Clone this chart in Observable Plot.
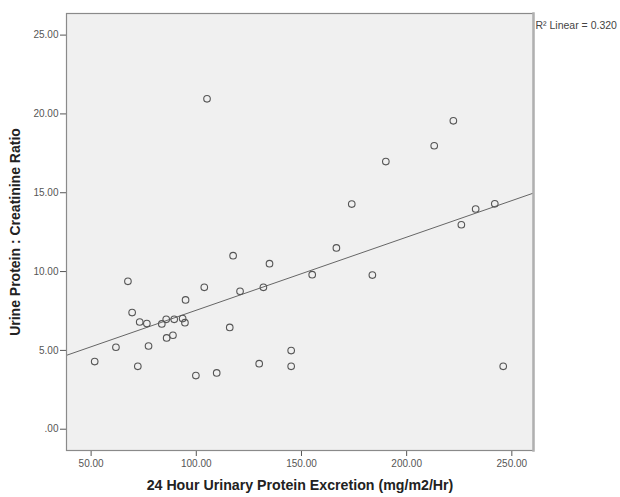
<!DOCTYPE html>
<html><head><meta charset="utf-8">
<script src="https://cdn.jsdelivr.net/npm/d3@7"></script>
<script src="https://cdn.jsdelivr.net/npm/@observablehq/plot@0.6"></script>
<style>body{margin:0;background:#fff}</style>
</head><body><div id="chart"></div>
<script>
// 24 Hour Urinary Protein Excretion (mg/m2/Hr)
const excretion = [117.5, 134.8, 67.5, 103.8, 120.8, 131.9, 94.9, 69.5, 73.1, 76.5,
  83.6, 85.7, 89.5, 93.5, 94.6, 85.9, 88.9, 77.3, 61.8, 51.7,
  72.2, 99.8, 109.7, 115.9, 129.9, 145.1, 145.1, 213.1, 190.1, 173.9,
  232.8, 241.9, 226.0, 166.6, 155.1, 183.7, 245.9, 105.1, 222.2];
// Urine Protein : Creatinine Ratio
const ratio = [11.01, 10.50, 9.38, 9.00, 8.75, 9.00, 8.20, 7.40, 6.80, 6.70,
  6.68, 6.97, 6.97, 7.02, 6.76, 5.79, 5.96, 5.28, 5.20, 4.29,
  3.99, 3.40, 3.57, 6.46, 4.16, 4.99, 3.99, 17.98, 16.98, 14.28,
  13.97, 14.30, 12.97, 11.50, 9.80, 9.78, 3.99, 20.96, 19.56];
const xTicks = [50, 100, 150, 200, 250];
const yTicks = [0, 5, 10, 15, 20, 25];
const xLabel = "24 Hour Urinary Protein Excretion (mg/m2/Hr)";
const yLabel = "Urine Protein : Creatinine Ratio";
const r2Label = "R² Linear = 0.320";

const xDomain = [38.3, 260.3];
const yDomain = [-1.35, 26.37];

const data = excretion.map((x, i) => ({x, y: ratio[i]}));
const mx = d3.mean(excretion), my = d3.mean(ratio);
const slope = d3.sum(data, d => (d.x - mx) * (d.y - my)) / d3.sum(data, d => (d.x - mx) ** 2);
const intercept = my - slope * mx;
const fit = xDomain.map(x => ({x, y: intercept + slope * x}));

const fmt = d => d === 0 ? ".00" : d.toFixed(2);

const chart = Plot.plot({
  width: 620, height: 497,
  marginLeft: 66, marginRight: 87, marginTop: 13, marginBottom: 47,
  style: {fontFamily: "'Liberation Sans', Arial, sans-serif", background: "#fff"},
  x: {domain: xDomain},
  y: {domain: yDomain},
  marks: [
    Plot.frame({fill: "#f0f0f0"}),
    Plot.axisX({ticks: xTicks, tickFormat: fmt, tickSize: 6, tickPadding: 3, fontSize: 10, color: "#555", label: null}),
    Plot.axisY({ticks: yTicks, tickFormat: fmt, tickSize: 6, tickPadding: 2, fontSize: 10, color: "#555", label: null}),
    Plot.line(fit, {x: "x", y: "y", stroke: "#666", strokeWidth: 1}),
    Plot.dot(data, {x: "x", y: "y", r: 3.3, stroke: "#555", strokeWidth: 1.1}),
    Plot.frame({stroke: "#8a8a8a", strokeWidth: 1.2}),
    Plot.frame({anchor: "right", stroke: "#b0b0b0", strokeWidth: 2.5}),
    Plot.text([r2Label], {frameAnchor: "top-right", textAnchor: "start", dx: 2, dy: 8, fontSize: 10.5, fill: "#444"}),
    Plot.text([xLabel], {frameAnchor: "bottom", dy: 39, fontSize: 14.2, fontWeight: "bold", fill: "#222"}),
    Plot.text([yLabel], {frameAnchor: "left", textAnchor: "middle", rotate: -90, dx: -51, fontSize: 14, fontWeight: "bold", fill: "#222"})
  ]
});
document.getElementById("chart").appendChild(chart);
</script>
</body></html>
